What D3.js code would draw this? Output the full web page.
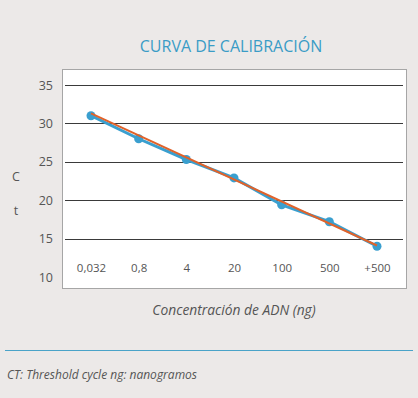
<!DOCTYPE html>
<html>
<head>
<meta charset="utf-8">
<script src="https://cdn.jsdelivr.net/npm/d3@7"></script>
<style>
  body { margin: 0; background: #ece9e8; }
  svg { display: block; font-family: "Open Sans", "Lato", sans-serif; }
</style>
</head>
<body>
<svg id="chart"></svg>
<script>
// Data
const categories = ['0,032', '0,8', '4', '20', '100', '500', '+500'];
const ctValues = [31.0, 28.0, 25.3, 22.9, 19.4, 17.2, 14.0];
const trendValues = [31.3, 14.1]; // fitted line, first and last category
const yTicks = [10, 15, 20, 25, 30, 35];

const width = 418, height = 398;
const box = {left: 62, top: 69, right: 406, bottom: 288};
const font = '"Open Sans", "Lato", sans-serif';

const svg = d3.select('#chart')
  .attr('width', width)
  .attr('height', height);

// Title
svg.append('text')
  .attr('x', 231).attr('y', 52)
  .attr('text-anchor', 'middle')
  .attr('fill', '#3a9cc6')
  .attr('font-size', 16)
  .text('CURVA DE CALIBRACIÓN');

// Plot box
svg.append('rect')
  .attr('x', box.left + 0.5).attr('y', box.top + 0.5)
  .attr('width', box.right - box.left).attr('height', box.bottom - box.top)
  .attr('fill', '#fff')
  .attr('stroke', '#a6a6a6');

// Scales
const xScale = d3.scalePoint()
  .domain(categories)
  .range([91, 377]);

const yScale = d3.scaleLinear()
  .domain([10, 35])
  .range([277, 85]);

// Gridlines (no line at 10)
svg.append('g')
  .selectAll('line')
  .data(yTicks.filter(d => d > 10))
  .join('line')
  .attr('x1', 65).attr('x2', 403)
  .attr('y1', d => Math.round(yScale(d)) + 0.5)
  .attr('y2', d => Math.round(yScale(d)) + 0.5)
  .attr('stroke', '#3a3a3a')
  .attr('stroke-width', 1);

// Y axis labels
const yAxis = d3.axisLeft(yScale).tickValues(yTicks).tickSize(0).tickPadding(0);
svg.append('g')
  .attr('transform', 'translate(53,0)')
  .call(yAxis)
  .call(g => g.select('.domain').remove())
  .call(g => g.selectAll('text')
    .attr('fill', '#555')
    .attr('font-size', 12.5)
    .attr('font-family', font));

// Y axis title, stacked letters
svg.append('g')
  .selectAll('text')
  .data(['C', 't'])
  .join('text')
  .attr('x', 16)
  .attr('y', (d, i) => 181 + i * 34)
  .attr('text-anchor', 'middle')
  .attr('fill', '#555')
  .attr('font-size', 12.5)
  .text(d => d);

// X category labels inside the box
const xAxis = d3.axisBottom(xScale).tickSize(0).tickPadding(0);
svg.append('g')
  .attr('transform', 'translate(0,264)')
  .call(xAxis)
  .call(g => g.select('.domain').remove())
  .call(g => g.selectAll('text')
    .attr('fill', '#555')
    .attr('font-size', 11.5)
    .attr('font-family', font));

// Data line + points
const points = categories.map((c, i) => ({cat: c, value: ctValues[i]}));

svg.append('path')
  .datum(points)
  .attr('fill', 'none')
  .attr('stroke', '#3a9fcf')
  .attr('stroke-width', 3)
  .attr('d', d3.line().x(d => xScale(d.cat)).y(d => yScale(d.value)));

svg.append('g')
  .selectAll('circle')
  .data(points)
  .join('circle')
  .attr('cx', d => xScale(d.cat))
  .attr('cy', d => yScale(d.value))
  .attr('r', 4.5)
  .attr('fill', '#3a9fcf');

// Trend line
const trend = [
  {cat: categories[0], value: trendValues[0]},
  {cat: categories[categories.length - 1], value: trendValues[1]}
];
svg.append('path')
  .datum(trend)
  .attr('fill', 'none')
  .attr('stroke', '#e0622a')
  .attr('stroke-width', 2)
  .attr('d', d3.line().x(d => xScale(d.cat)).y(d => yScale(d.value)));

// X axis title
svg.append('text')
  .attr('x', 234).attr('y', 315)
  .attr('text-anchor', 'middle')
  .attr('fill', '#555')
  .attr('font-size', 13.8)
  .attr('font-style', 'italic')
  .text('Concentración de ADN (ng)');

// Separator
svg.append('line')
  .attr('x1', 5).attr('x2', 413)
  .attr('y1', 350.5).attr('y2', 350.5)
  .attr('stroke', '#4aa3c8')
  .attr('stroke-width', 1);

// Footnote
svg.append('text')
  .attr('x', 7).attr('y', 379)
  .attr('fill', '#555')
  .attr('font-size', 12)
  .attr('font-style', 'italic')
  .text('CT: Threshold cycle ng: nanogramos');
</script>
</body>
</html>
